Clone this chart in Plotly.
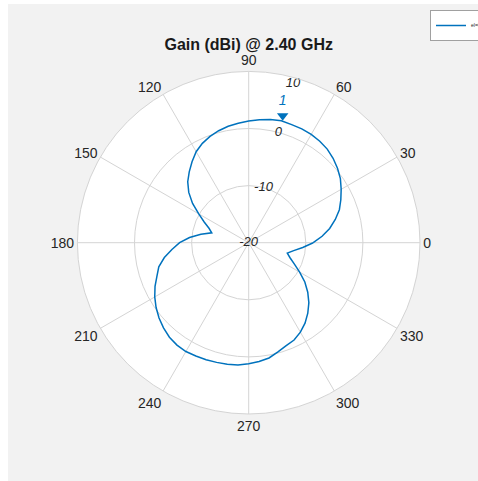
import plotly.graph_objects as go

# Azimuth angles (degrees) and gain (dBi)
angles = list(range(0, 360, 5))
gain_dbi = [
    -8.7, -7.1, -5.6, -4.3, -3.1, -2.2, -1.3, -0.4, 0.3, 0.9,     # 0-45
    1.4, 1.7, 1.9, 2.0, 2.0, 2.1, 1.9, 1.6, 1.3, 1.0,             # 50-95
    0.7, 0.3, -0.2, -0.8, -1.6, -2.7, -3.8, -4.9, -6.3, -8.0,     # 100-145
    -9.9, -11.4, -12.6, -13.3, -11.5, -9.6, -7.9, -6.5, -5.0, -3.7,  # 150-195
    -2.9, -1.9, -1.0, -0.2, 0.5, 1.1, 1.6, 1.9, 2.0, 1.9,         # 200-245
    1.8, 1.7, 1.6, 1.5, 1.2, 0.9, 0.5, -0.2, -0.8, -1.2,          # 250-295
    -1.9, -2.8, -3.9, -5.1, -6.5, -8.0, -9.7, -11.2, -12.3, -13.0,  # 300-345
    -12.0, -10.5,                                                  # 350-355
]
radial_ticks = [-20, -10, 0, 10]
radial_label_angle = 75
angular_ticks = list(range(0, 360, 30))
title_text = "Gain (dBi) @ 2.40 GHz"
legend_name = "el=0°"

W, H = 478, 481
blue = "#0072BD"

# closed curve
r_closed = gain_dbi + [gain_dbi[0]]
th_closed = angles + [angles[0]]

# max marker
imax = max(range(len(gain_dbi)), key=lambda i: gain_dbi[i])
max_r = gain_dbi[imax]
max_th = angles[imax]

fig = go.Figure()
fig.add_trace(go.Scatterpolar(
    r=r_closed, theta=th_closed, mode="lines",
    line=dict(color=blue, width=1.5), name=legend_name, showlegend=True,
))
fig.add_trace(go.Scatterpolar(
    r=[max_r + 0.9], theta=[max_th], mode="markers+text",
    marker=dict(symbol="triangle-down", size=10, color=blue),
    text=["<i>1</i>"], textposition="top center",
    textfont=dict(color=blue, size=14, family="Liberation Sans"),
    showlegend=False, hoverinfo="skip", cliponaxis=False,
))
# radial tick labels (italic, horizontal)
fig.add_trace(go.Scatterpolar(
    r=radial_ticks, theta=[radial_label_angle] * len(radial_ticks),
    mode="text", text=[f"<i>{v}</i>" for v in radial_ticks],
    textposition=["middle center", "middle center", "middle center", "bottom center"],
    textfont=dict(color="#262626", size=13, family="Liberation Sans"),
    showlegend=False, hoverinfo="skip", cliponaxis=False,
))

cx, cy, R = 248.7, 242.7, 171.3
dom_x = [(cx - R) / W, (cx + R) / W]
cy_b = H - cy
dom_y = [(cy_b - R) / H, (cy_b + R) / H]

grid = "#d4d4d4"
fig.update_layout(
    width=W, height=H, autosize=False,
    margin=dict(l=0, r=0, t=0, b=0, autoexpand=False),
    paper_bgcolor="white",
    font=dict(family="Liberation Sans, Arial, sans-serif", color="#262626"),
    title=dict(text="<b>" + title_text + "</b>", x=cx / W, xanchor="center",
               y=1 - 44 / H, yanchor="middle",
               font=dict(size=16, color="#1a1a1a")),
    polar=dict(
        domain=dict(x=dom_x, y=dom_y),
        bgcolor="white",
        radialaxis=dict(
            range=[-20, 10], tickvals=radial_ticks,
            showticklabels=False, showline=False, ticks="",
            gridcolor=grid, gridwidth=1,
        ),
        angularaxis=dict(
            rotation=0, direction="counterclockwise",
            tickvals=angular_ticks, ticktext=[str(a) for a in angular_ticks],
            ticks="", showline=True, linecolor=grid, linewidth=1,
            gridcolor=grid, gridwidth=1,
            tickfont=dict(size=14, color="#262626"),
        ),
    ),
    showlegend=True,
    legend=dict(
        x=430 / W, y=1 - 10 / H, xanchor="left", yanchor="top",
        bgcolor="white", bordercolor="#a0a0a0", borderwidth=1,
        font=dict(size=5, color="#262626"), itemwidth=30,
        tracegroupgap=0,
    ),
    shapes=[dict(
        type="rect", xref="paper", yref="paper",
        x0=8 / W, x1=1, y0=0, y1=1 - 4 / H,
        fillcolor="#f2f2f2", line=dict(width=0), layer="below",
    )],
)

fig.write_html(
    "out.html",
    config={"responsive": False, "displayModeBar": False},
    post_script=(
        "var gd=document.getElementById('{plot_id}');"
        "document.documentElement.style.overflow='hidden';"
        "document.body.style.margin='0';"
        "document.body.style.overflow='hidden';"
        "gd.style.overflow='hidden';"
        "if(gd.parentElement){gd.parentElement.style.overflow='hidden';"
        "gd.parentElement.style.width='478px';gd.parentElement.style.height='481px';}"
    ),
)
